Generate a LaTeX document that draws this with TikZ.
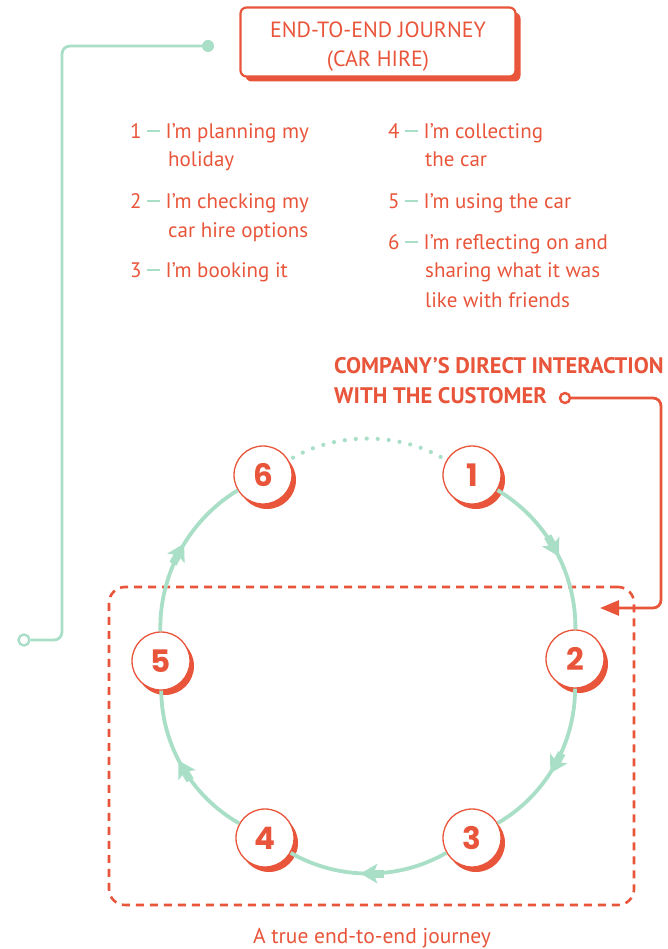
\documentclass[tikz,border=0pt]{standalone}
\usepackage{fontspec}
\setmainfont{PT Sans}
\newfontfamily\numfont{Poppins}
\usetikzlibrary{arrows.meta,shadows,decorations.markings}

\definecolor{orgc}{HTML}{E8553A}
\definecolor{mint}{HTML}{A9DEC7}

\newcommand\itemdash{\hspace{5pt}{\color{mint}\rule[7pt]{13pt}{1.5pt}}\hspace{6pt}}

\tikzset{
  stepnum/.style={circle, draw=orgc, line width=1.3pt, fill=white,
    minimum size=58pt, inner sep=0pt, text=orgc,
    font=\numfont\bfseries\fontsize{31}{31}\selectfont,
    drop shadow={fill=orgc, opacity=1, shadow xshift=4pt, shadow yshift=-5pt}},
  titlebox/.style={draw=orgc, line width=2.2pt, fill=white, rounded corners=6pt,
    minimum width=275pt, minimum height=69pt,
    drop shadow={fill=orgc, opacity=1, shadow xshift=5pt, shadow yshift=-5pt, rounded corners=6pt}},
  titletext/.style={align=center, text=orgc, inner sep=0pt,
    font=\fontsize{22}{29}\selectfont},
  listitem/.style={anchor=base west, inner sep=0pt, text=orgc,
    font=\fontsize{21}{24}\selectfont},
  headline/.style={anchor=base west, inner sep=0pt, text=orgc,
    font=\bfseries\fontsize{22.5}{24}\selectfont},
  ringline/.style={draw=mint, line width=3.8pt, bend left=30, looseness=0.91},
  ringarrow/.style={ringline, postaction={decorate}, decoration={markings,
    mark=at position 0.5 with {
      \fill[mint] (8pt,0pt) -- (-9pt,10pt) -- (-5pt,0pt) -- (-9pt,-10pt) -- cycle;
      \fill[mint] (-4pt,-4pt) rectangle (-15pt,4pt);}}},
  ringdots/.style={draw=mint, line width=4.2pt, line cap=round,
    dash pattern=on 0pt off 11pt, bend left=30, looseness=0.91,
    shorten <=5pt, shorten >=5pt},
  mintlink/.style={draw=mint, line width=2.8pt, rounded corners=8pt},
  orglink/.style={draw=orgc, line width=2.8pt, rounded corners=8pt},
  hollowend/.style={circle, inner sep=0pt, minimum size=11pt, line width=2.4pt, fill=white},
}

\begin{document}
\begin{tikzpicture}[x=1pt, y=-1pt]
\useasboundingbox (0,0) rectangle (667,949);

% title box and the connector running down the left edge
\node[titlebox] (title) at (378,42) {};
\node[titletext, yshift=-5pt] (titletxt) at (title.center) {END-TO-END JOURNEY\\(CAR HIRE)};
\node[circle, fill=mint, inner sep=0pt, minimum size=12pt] (gstart) at (208,46) {};
\node[hollowend, draw=mint] (gend) at (24,640) {};
\draw[mintlink] (gstart.center) -- (62,46) -- (62,640) -- (gend.east);

% list of journey stages
\node[listitem] (a1) at (130,139) {1\itemdash I’m planning my};
\node[listitem] (a1b) at (168,167) {holiday};
\node[listitem] (a2) at (130,209) {2\itemdash I’m checking my};
\node[listitem] (a2b) at (168,238) {car hire options};
\node[listitem] (a3) at (130,278) {3\itemdash I’m booking it};
\node[listitem] (a4) at (388,139) {4\itemdash I’m collecting};
\node[listitem] (a4b) at (425,167) {the car};
\node[listitem] (a5) at (388,209) {5\itemdash I’m using the car};
\node[listitem] (a6) at (388,250) {6\itemdash I’m reflecting on and};
\node[listitem] (a6b) at (425,278) {sharing what it was};
\node[listitem] (a6c) at (425,307) {like with friends};

% company interaction label and its pointer
\node[headline] (h1) at (334,373) {COMPANY’S DIRECT INTERACTION};
\node[headline] (h2) at (334,403) {WITH THE CUSTOMER};
\node[hollowend, draw=orgc, minimum size=10pt] (oring) at (565,398) {};
\coordinate (otip) at (600,608);

% dashed frame around the direct-interaction stages
\node[draw=orgc, line width=2.6pt, dash pattern=on 8pt off 6pt, rounded corners=16pt,
      minimum width=525pt, minimum height=318pt, inner sep=0pt] (frame) at (371.5,746) {};
\draw[orglink, -{Triangle[length=19pt, width=15pt]}] (oring.east) -- (661,398) -- (661,608) -- (otip);

% stage circles
\node[stepnum] (n1) at (472,475) {1};
\node[stepnum] (n2) at (575,659) {2};
\node[stepnum] (n3) at (472,838) {3};
\node[stepnum] (n4) at (265,838) {4};
\node[stepnum] (n5) at (161,661) {5};
\node[stepnum] (n6) at (263,475) {6};

% the journey ring
\path[ringarrow] (n1) to (n2);
\path[ringarrow] (n2) to (n3);
\path[ringarrow] (n3) to (n4);
\path[ringarrow] (n4) to (n5);
\path[ringarrow] (n5) to (n6);
\path[ringdots] (n6) to (n1);

\node[anchor=base, inner sep=0pt, text=orgc, font=\fontsize{21.5}{24}\selectfont] (cap) at (372,943) {A true end-to-end journey};
\end{tikzpicture}
\end{document}
